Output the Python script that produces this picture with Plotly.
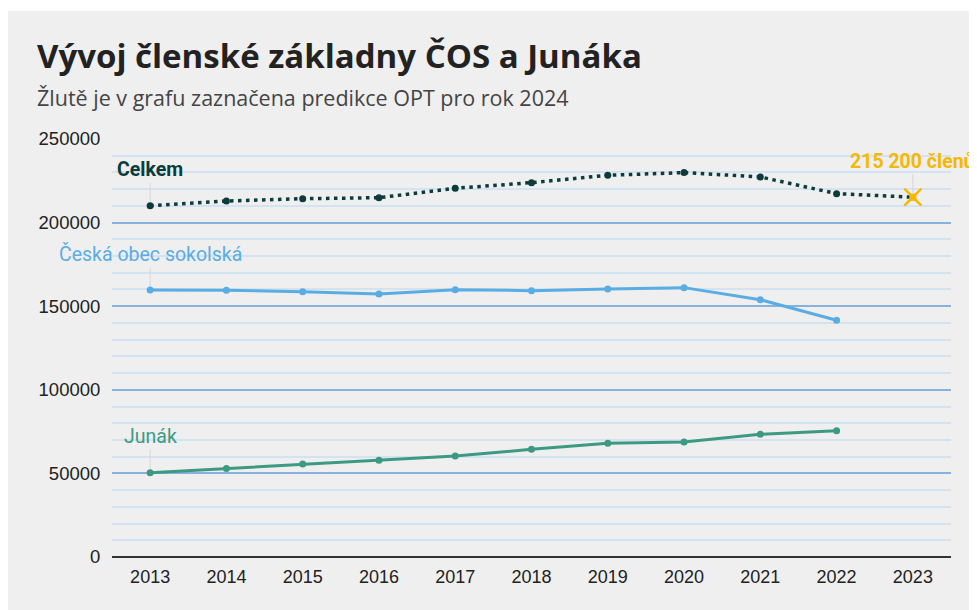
import plotly.graph_objects as go

roky = ["2013", "2014", "2015", "2016", "2017", "2018", "2019", "2020", "2021", "2022"]
rok_predikce = "2023"
vsechny_roky = roky + [rok_predikce]

celkem = [210100, 212900, 214300, 214900, 220500, 223900, 228300, 229900, 227300, 217300]
predikce = 215200
cos = [159700, 159600, 158700, 157300, 159900, 159300, 160300, 161100, 153900, 141600]
junak = [50400, 53000, 55600, 57800, 60400, 64400, 68000, 68800, 73400, 75500]

# stránka má okraj 8 px, proto je graf o tolik menší
OFF = 8
W, H = 977 - OFF, 610 - OFF
L, R, T, B = 112 - OFF, 26, 139 - OFF, 53


def px_x(px):
    return (px - OFF - L) / (W - L - R)


def px_y(py):
    return (H - B - (py - OFF)) / (H - T - B)


C_CELKEM = "#0b3c3b"
C_COS = "#5aade2"
C_JUNAK = "#3d9a82"
C_PRED = "#f6b800"

fig = go.Figure()

fig.add_trace(go.Scatter(x=vsechny_roky, y=celkem + [predikce], mode="lines",
                         line=dict(color=C_CELKEM, width=3.5, dash="3.5px,4.5px"),
                         hoverinfo="skip", showlegend=False))
fig.add_trace(go.Scatter(x=roky, y=celkem, mode="markers",
                         marker=dict(color=C_CELKEM, size=7), showlegend=False))
fig.add_trace(go.Scatter(x=roky, y=cos, mode="lines+markers",
                         line=dict(color=C_COS, width=3), marker=dict(size=7),
                         showlegend=False))
fig.add_trace(go.Scatter(x=roky, y=junak, mode="lines+markers",
                         line=dict(color=C_JUNAK, width=3), marker=dict(size=7),
                         showlegend=False))
fig.add_trace(go.Scatter(x=[rok_predikce], y=[predikce], mode="markers",
                         marker=dict(color=C_PRED, size=17, symbol="x-thin-open",
                                     line=dict(color=C_PRED, width=2.5)),
                         showlegend=False))
fig.add_trace(go.Scatter(x=[rok_predikce], y=[predikce], mode="markers",
                         marker=dict(color=C_PRED, size=10, symbol="star-diamond", angle=45),
                         showlegend=False))

# popisky řad s šedou spojnicí
popisky = [
    (roky[0], celkem[0], "<b>Celkem</b>", C_CELKEM),
    (roky[0], cos[0], "Česká obec sokolská", C_COS),
    (roky[0], junak[0], "Junák", C_JUNAK),
    (rok_predikce, predikce, "<b>215 200 členů</b>", C_PRED),
]
for x, y, txt, col in popisky:
    fig.add_annotation(x=vsechny_roky.index(x), y=y, text=txt, showarrow=True, arrowhead=0,
                       arrowwidth=1, arrowcolor="#d6d6d6", ax=0, ay=-36, standoff=4,
                       font=dict(family="Roboto", size=19.5, color=col))

fig.add_annotation(xref="paper", yref="paper", x=px_x(35), y=px_y(55), xanchor="left",
                   yanchor="middle", showarrow=False, text="<b>Vývoj členské základny ČOS a Junáka</b>",
                   font=dict(family="Open Sans", size=33, color="#222222"))
fig.add_annotation(xref="paper", yref="paper", x=px_x(35), y=px_y(97), xanchor="left",
                   yanchor="middle", showarrow=False,
                   text="Žlutě je v grafu zaznačena predikce OPT pro rok 2024",
                   font=dict(family="Open Sans", size=21.5, color="#444444"))

# šedé pozadí grafu
fig.add_shape(type="rect", xref="paper", yref="paper", layer="below",
              x0=px_x(7), x1=px_x(990), y0=px_y(620), y1=px_y(11),
              fillcolor="#efefef", line=dict(width=0))

fig.update_layout(
    width=W, height=H,
    margin=dict(l=L, r=R, t=T, b=B),
    paper_bgcolor="white",
    plot_bgcolor="rgba(0,0,0,0)",
    font=dict(family="Liberation Sans, Arial", size=18, color="#222222"),
    xaxis=dict(type="category", range=[-0.5, 10.5], showgrid=False, zeroline=False,
               showline=False, ticks="outside", ticklen=3, tickcolor="rgba(0,0,0,0)",
               tickfont=dict(size=18, color="#222222")),
    yaxis=dict(range=[0, 250000], dtick=50000, tickformat="d", showgrid=True,
               gridcolor="#86b2e0", gridwidth=1.5,
               minor=dict(dtick=10000, showgrid=True, gridcolor="#d3e3f2", gridwidth=1.5),
               zeroline=True, zerolinecolor="#333333", zerolinewidth=1.5,
               ticks="outside", ticklen=7, tickcolor="rgba(0,0,0,0)",
               tickfont=dict(size=18.5, color="#222222")),
    hovermode="closest",
)

fig.write_html("out.html")
